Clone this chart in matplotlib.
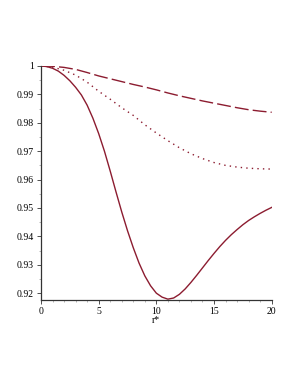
import matplotlib
matplotlib.use("Agg")
import matplotlib.pyplot as plt
from matplotlib.ticker import MultipleLocator, FuncFormatter

# values (r* from 0 to 20)
r_solid = [0, 0.5, 1, 1.5, 2, 2.5, 3, 3.5, 4, 4.5, 5, 5.5, 6, 6.5, 7,
           7.5, 8, 8.5, 9, 9.5, 10, 10.5, 11, 11.5, 12, 12.5, 13, 13.5,
           14, 14.5, 15, 15.5, 16, 16.5, 17, 17.5, 18, 18.5, 19, 19.5, 20]
solid = [1.0000, 0.9998, 0.9992, 0.9982, 0.9967, 0.9948, 0.9925, 0.9898,
         0.9862, 0.9816, 0.9762, 0.9700, 0.9630, 0.9557, 0.9486, 0.9420,
         0.9360, 0.9306, 0.9261, 0.9226, 0.9200, 0.9186, 0.9179, 0.9183,
         0.9196, 0.9215, 0.9238, 0.9263, 0.9289, 0.9315, 0.9340, 0.9364,
         0.9386, 0.9406, 0.9424, 0.9441, 0.9456, 0.9469, 0.9481, 0.9492,
         0.9502]

r_other = [0, 1, 2, 3, 4, 5, 6, 7, 8, 9, 10, 11, 12, 13, 14, 15, 16, 17,
           18, 19, 20]
dotted = [1.0, 0.9996, 0.9985, 0.9968, 0.9943, 0.9911, 0.9883, 0.9853,
          0.9826, 0.9793, 0.9764, 0.9737, 0.9712, 0.9691, 0.9674, 0.9660,
          0.9650, 0.9644, 0.9640, 0.9638, 0.9637]
dashed = [1.0, 0.9999, 0.9995, 0.9988, 0.9977, 0.9965, 0.9955, 0.9945,
          0.9935, 0.9926, 0.9916, 0.9905, 0.9895, 0.9886, 0.9877, 0.9869,
          0.9861, 0.9853, 0.9846, 0.9841, 0.9837]

color = '#8c1c30'

plt.rcParams['font.family'] = ['Liberation Serif', 'DejaVu Serif']

fig = plt.figure(figsize=(2.98, 3.85), dpi=100)
ax = fig.add_axes([0.1376, 0.2208, 0.7741, 0.6078])

ax.plot(r_solid, solid, color=color, lw=1.0)
ax.plot(r_other, dotted, color=color, lw=1.0, dashes=(1, 3))
ax.plot(r_other, dashed, color=color, lw=1.0, dashes=(10, 3))

ax.set_xlim(0, 20)
ax.set_ylim(0.9176, 1.0)

ax.spines['top'].set_visible(False)
ax.spines['right'].set_visible(False)
for s in ('left', 'bottom'):
    ax.spines[s].set_color('#333333')
    ax.spines[s].set_linewidth(0.9)

ax.xaxis.set_major_locator(MultipleLocator(5))
ax.xaxis.set_minor_locator(MultipleLocator(1))
ax.yaxis.set_major_locator(MultipleLocator(0.01))
ax.yaxis.set_minor_locator(MultipleLocator(0.005))


def yfmt(v, pos):
    return "1" if abs(v - 1) < 1e-9 else f"{v:.2f}"


ax.yaxis.set_major_formatter(FuncFormatter(yfmt))
ax.tick_params(which='major', direction='out', length=3, width=0.6,
               labelsize=7, colors='#333333', labelcolor='black', pad=2)
ax.tick_params(which='minor', direction='out', length=1.5, width=0.5,
               colors='#999999')

ax.set_xlabel('r*', fontsize=7, labelpad=0)

fig.savefig('out.png', dpi=100)
